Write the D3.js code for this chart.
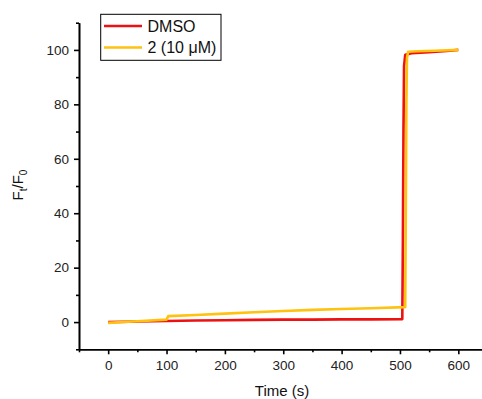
<!DOCTYPE html>
<html>
<head>
<meta charset="utf-8">
<script src="https://cdn.jsdelivr.net/npm/d3@7"></script>
<style>
  body { margin: 0; background: #fff; }
  svg { display: block; font-family: Arial, "Liberation Sans", sans-serif; }
</style>
</head>
<body>
<div id="chart"></div>
<script>
// data
const dmsoTime  = [0, 50, 100, 150, 200, 250, 300, 350, 400, 450, 504, 505, 506, 507, 509, 520, 550, 580, 600];
const dmsoValue = [0, 0.2, 0.4, 0.6, 0.7, 0.8, 0.9, 0.9, 1.0, 1.0, 1.1, 30, 70, 94, 98.2, 98.8, 99.2, 99.6, 100];
const cmpdTime  = [0, 50, 100, 103, 150, 200, 250, 300, 350, 400, 450, 509, 510, 511, 512, 514, 530, 560, 600];
const cmpdValue = [-0.3, 0.3, 0.9, 2.2, 2.6, 3.1, 3.6, 4.1, 4.5, 4.8, 5.1, 5.5, 40, 80, 97, 99.3, 99.5, 99.7, 100];
const seriesNames = ["DMSO", "2 (10 \u03BCM)"];
const seriesColors = ["#ee1111", "#ffc20e"];
const xTicks = [0, 100, 200, 300, 400, 500, 600];
const yTicks = [0, 20, 40, 60, 80, 100];

const W = 482, H = 399;
const svg = d3.select("#chart").append("svg").attr("width", W).attr("height", H);

const x = d3.scaleLinear().domain([-50, 650]).range([79, 487.5]);
const y = d3.scaleLinear().domain([-10, 110]).range([349.3, 22.7]);

// axes
const xAxis = svg.append("g").attr("transform", `translate(0,${y(-10)})`)
  .call(d3.axisBottom(x).tickValues(xTicks).tickSize(5).tickPadding(6).tickSizeOuter(0));
const xMinor = svg.append("g").attr("transform", `translate(0,${y(-10)})`)
  .call(d3.axisBottom(x).tickValues(d3.range(-50, 651, 50).filter(v => !xTicks.includes(v))).tickSize(3).tickFormat("").tickSizeOuter(0));
const yAxis = svg.append("g").attr("transform", `translate(${x(-50)},0)`)
  .call(d3.axisLeft(y).tickValues(yTicks).tickSize(5).tickPadding(5).tickSizeOuter(0));
const yMinor = svg.append("g").attr("transform", `translate(${x(-50)},0)`)
  .call(d3.axisLeft(y).tickValues(d3.range(-10, 111, 10).filter(v => !yTicks.includes(v))).tickSize(3).tickFormat("").tickSizeOuter(0));

[xAxis, xMinor, yAxis, yMinor].forEach(g => {
  g.selectAll("path").attr("stroke", "#000").attr("stroke-width", 1.6);
  g.selectAll("line").attr("stroke", "#000").attr("stroke-width", 1.6);
  g.selectAll("text").attr("fill", "#222").style("font-size", "13.5px").style("font-family", "Arial, 'Liberation Sans', sans-serif");
});

// lines
const line = d3.line().x(d => x(d[0])).y(d => y(d[1]));
const dmso = dmsoTime.map((t, i) => [t, dmsoValue[i]]);
const cmpd = cmpdTime.map((t, i) => [t, cmpdValue[i]]);
svg.append("path").datum(dmso).attr("d", line)
  .attr("fill", "none").attr("stroke", seriesColors[0]).attr("stroke-width", 2.6).attr("stroke-linejoin", "round");
svg.append("path").datum(cmpd).attr("d", line)
  .attr("fill", "none").attr("stroke", seriesColors[1]).attr("stroke-width", 2.6).attr("stroke-linejoin", "round");

// legend
const lg = svg.append("g");
lg.append("rect").attr("x", 100.7).attr("y", 14.3).attr("width", 120.3).attr("height", 46)
  .attr("fill", "#fff").attr("stroke", "#000").attr("stroke-width", 1);
seriesNames.forEach((name, i) => {
  const cy = 26 + i * 21.5;
  lg.append("line").attr("x1", 104).attr("x2", 142).attr("y1", cy).attr("y2", cy)
    .attr("stroke", seriesColors[i]).attr("stroke-width", 2.6);
  lg.append("text").attr("x", 147.5).attr("y", cy + 5.8).text(name)
    .attr("fill", "#111").style("font-size", "16px");
});

// titles
svg.append("text").attr("x", 282).attr("y", 396).attr("text-anchor", "middle")
  .style("font-size", "15px").attr("fill", "#111").text("Time (s)");
const yt = svg.append("text").attr("transform", "translate(23,185) rotate(-90)")
  .attr("text-anchor", "middle").style("font-size", "15px").attr("fill", "#111");
yt.append("tspan").text("F");
yt.append("tspan").attr("dy", 4).style("font-size", "10px").text("t");
yt.append("tspan").attr("dy", -4).text("/F");
yt.append("tspan").attr("dy", 4).style("font-size", "10px").text("0");
</script>
</body>
</html>
